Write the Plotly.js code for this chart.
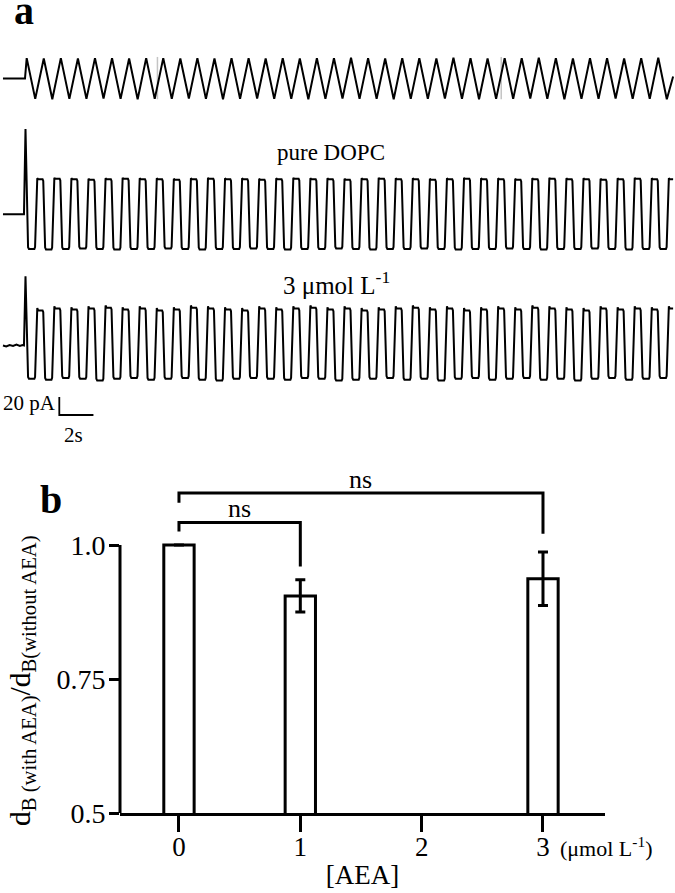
<!DOCTYPE html>
<html><head><meta charset="utf-8">
<script src="https://cdn.plot.ly/plotly-3.0.1.min.js"></script>
<style>html,body{margin:0;padding:0;background:#fff}#chart{width:675px;height:893px}</style>
</head><body><div id="chart"></div>
<script>
// ---------- Panel a : recorded traces (time in s, one triangle cycle = 1 s) ----------
const cyclePeriodS = 1;
const traceStartS = -1.39;
const traceEndS = 37.87;
// command voltage (triangle), per-cycle peak and trough values (mV, arbitrary scale)
const voltagePeakMV   = [53,52,53,52,53,53,52,53,53,52,53,52,53,53,52,53,52,53,53,54,53,52,53,53,52,54,53,52,53,53,54,53,52,53,53,52,53,54];
const voltageTroughMV = [-53,-54,-53,-53,-52,-53,-54,-53,-53,-52,-53,-54,-53,-52,-53,-53,-54,-53,-52,-53,-53,-54,-53,-53,-52,-53,-54,-53,-53,-52,-53,-54,-53,-53,-52,-53,-53,-54];
const voltageEndMV = 5;
// pure DOPC current, per-cycle plateau levels (pA)
const dopcHighPA = [39,39.5,39,38.5,39,39.5,39,39,38.5,39,39.5,39,39,38.5,39,39.5,39,39,38.5,39,39.5,39,39,38.5,39,39.5,39,39,38.5,39,39.5,39,39,38.5,39,39.5,39,39];
const dopcLowPA  = [-38.5,-39,-38.5,-38,-38.5,-39,-38.5,-38.5,-38,-38.5,-39,-38.5,-38.5,-38,-38.5,-39,-38.5,-38.5,-38,-38.5,-39,-38.5,-38.5,-38,-38.5,-39,-38.5,-38.5,-38,-38.5,-39,-38.5,-38.5,-38,-38.5,-39,-38.5,-38.5];
const dopcSpikePA = 94.8;
const dopcBaselineT  = [-1.39, -0.16];
const dopcBaselinePA = [0, 0];
// 3 umol/L AEA current, per-cycle plateau levels (pA)
const aeaHighPA = [39,41,40,41,42,40,41,39,40,42,41,40,39,41,40,41,42,40,41,39,40,41,42,40,41,39,40,41,40,42,41,40,39,41,40,41,40,41];
const aeaLowPA  = [-37,-38,-36,-37,-39,-37,-36,-38,-37,-36,-38,-39,-37,-36,-37,-38,-36,-37,-39,-38,-37,-36,-38,-37,-39,-37,-36,-38,-37,-36,-38,-37,-39,-37,-36,-38,-37,-36];
const aeaSpikePA = 77;
const aeaBaselineT  = [-1.39,-1.2,-1.0,-0.8,-0.6,-0.4,-0.25,-0.16];
const aeaBaselinePA = [0,-1,0.5,-0.5,1,-0.5,0.5,0];
// scale bar: 20 pA / 2 s
const scaleBarT  = [1.91, 1.91, 3.91];
const scaleBarPA = [-57.2, -77.2, -77.2];
const artifactT = [7.66, 27.8];

// ---------- Panel b : normalized bilayer thickness ----------
const aeaConc   = [0, 1, 3];
const dRatio    = [1.0, 0.905, 0.937];
const dRatioErr = [null, 0.03, 0.05];
const xTickVals = [0, 1, 2, 3];
const xTickText = ['0', '1', '2', '3'];
const yTickVals = [0.5, 0.75, 1.0];
const yTickText = ['0.5', '0.75', '1.0'];
const bracketNearX = [0, 0, 1, 1];
const bracketNearY = [1.025, 1.042, 1.042, 0.96];
const bracketFarX  = [0, 0, 3, 3];
const bracketFarY  = [1.079, 1.097, 1.097, 1.021];

// ---------- build traces ----------
const vT = [traceStartS, -0.1], vV = [0, 0];
for (let k = 0; k < voltagePeakMV.length; k++) {
  vT.push(k * cyclePeriodS); vV.push(voltagePeakMV[k]);
  vT.push((k + 0.5) * cyclePeriodS); vV.push(voltageTroughMV[k]);
}
vT.push(traceEndS); vV.push(voltageEndMV);

function buildCurrent(high, low, spike, baseT, baseI, ov) {
  const t = baseT.slice(), y = baseI.slice();
  t.push(-0.07); y.push(spike);
  for (let k = 0; k < high.length; k++) {
    const pts = [
      [k + 0.08, low[k] + 2], [k + 0.13, low[k]], [k + 0.45, low[k]], [k + 0.49, low[k] + 2],
      [k + 0.58, high[k] - 2], [k + 0.62, high[k] + ov], [k + 0.67, high[k]], [k + 0.93, high[k]], [k + 0.97, high[k] - 2]
    ];
    for (const p of pts) {
      const tt = p[0] * cyclePeriodS;
      if (tt <= traceEndS) { t.push(tt); y.push(p[1]); }
    }
  }
  t.push(traceEndS); y.push(high[high.length - 1]);
  return {t, y};
}
const dopc = buildCurrent(dopcHighPA, dopcLowPA, dopcSpikePA, dopcBaselineT, dopcBaselinePA, 1);
const aea  = buildCurrent(aeaHighPA, aeaLowPA, aeaSpikePA, aeaBaselineT, aeaBaselinePA, 2.5);

const black = '#000';
const traces = [
  {x: vT, y: vV, xaxis: 'x', yaxis: 'y', type: 'scatter', mode: 'lines', line: {color: black, width: 2}, hoverinfo: 'skip'},
  {x: dopc.t, y: dopc.y, xaxis: 'x', yaxis: 'y2', type: 'scatter', mode: 'lines', line: {color: black, width: 2}, hoverinfo: 'skip'},
  {x: aea.t, y: aea.y, xaxis: 'x', yaxis: 'y3', type: 'scatter', mode: 'lines', line: {color: black, width: 2}, hoverinfo: 'skip'},
  {x: scaleBarT, y: scaleBarPA, xaxis: 'x', yaxis: 'y3', type: 'scatter', mode: 'lines', line: {color: black, width: 1.8}, hoverinfo: 'skip'},
  {x: aeaConc, y: dRatio, xaxis: 'x2', yaxis: 'y4', type: 'bar', width: 0.25,
   marker: {color: '#fff', line: {color: black, width: 3}},
   error_y: {type: 'data', array: dRatioErr, visible: true, color: black, thickness: 3, width: 5}},
  {x: bracketNearX, y: bracketNearY, xaxis: 'x2', yaxis: 'y4', type: 'scatter', mode: 'lines', cliponaxis: false, line: {color: black, width: 3}},
  {x: bracketFarX, y: bracketFarY, xaxis: 'x2', yaxis: 'y4', type: 'scatter', mode: 'lines', cliponaxis: false, line: {color: black, width: 3}}
];

const serif = '"Liberation Serif", "Times New Roman", Times, serif';
const H = 893, W = 675;
const py = v => 1 - v / H;

const layout = {
  width: W, height: H, margin: {l: 0, r: 0, t: 0, b: 0},
  paper_bgcolor: '#fff', plot_bgcolor: 'rgba(0,0,0,0)', showlegend: false,
  font: {family: serif, color: black},
  xaxis:  {domain: [0, 1], range: [-1.564, 37.98], visible: false, anchor: 'y3'},
  yaxis:  {domain: [py(117), py(40)], range: [-100, 100], visible: false, anchor: 'x'},
  yaxis2: {domain: [py(258), py(118)], range: [-48.56, 107.0], visible: false, anchor: 'x'},
  yaxis3: {domain: [py(422), py(262)], range: [-85.0, 92.78], visible: false, anchor: 'x'},
  xaxis2: {domain: [120 / W, 605 / W], range: [-0.486, 3.511], anchor: 'y4',
    showline: true, linewidth: 3, linecolor: black, showgrid: false, zeroline: false,
    ticks: 'outside', ticklen: 16, tickwidth: 3, tickcolor: black, ticklabelstandoff: -8,
    tickvals: xTickVals, ticktext: xTickText, tickfont: {size: 27, family: serif},
    title: {text: '[AEA]', font: {size: 27, family: serif}, standoff: 4}},
  yaxis4: {domain: [py(813), py(475)], range: [0.5, 1.1306], anchor: 'x2',
    showline: false, showgrid: false, zeroline: false,
    ticks: 'outside', ticklen: 10, tickwidth: 3, tickcolor: black, ticklabelstandoff: -2,
    tickvals: yTickVals, ticktext: yTickText, tickfont: {size: 28, family: serif}},
  shapes: [
    {type: 'line', xref: 'x2 domain', yref: 'y4', x0: 0, x1: 0, y0: 0.5, y1: 1.0, line: {color: black, width: 3}},
    {type: 'line', xref: 'x', yref: 'y', x0: artifactT[0], x1: artifactT[0], y0: -54, y1: 56, layer: 'below', line: {color: '#c4c4c4', width: 1.5}},
    {type: 'line', xref: 'x', yref: 'y', x0: artifactT[1], x1: artifactT[1], y0: -54, y1: 56, layer: 'below', line: {color: '#c4c4c4', width: 1.5}}
  ],
  annotations: [
    {text: '<b>a</b>', xref: 'paper', yref: 'paper', x: 12 / W, y: py(10), xanchor: 'left', yanchor: 'middle', showarrow: false, font: {size: 40, family: serif}},
    {text: '<b>b</b>', xref: 'paper', yref: 'paper', x: 38 / W, y: py(499), xanchor: 'left', yanchor: 'middle', showarrow: false, font: {size: 40, family: serif}},
    {text: 'd<sub>B (with AEA)</sub>/d<sub>B(without AEA)</sub>', xref: 'paper', yref: 'paper', x: 22 / W, y: py(681), xanchor: 'center', yanchor: 'middle', textangle: -90, showarrow: false, font: {size: 29.5, family: serif}},
    {text: 'pure DOPC', xref: 'paper', yref: 'paper', x: 331 / W, y: py(152), xanchor: 'center', yanchor: 'middle', showarrow: false, font: {size: 23, family: serif}},
    {text: '3 μmol L<sup>-1</sup>', xref: 'paper', yref: 'paper', x: 336 / W, y: py(283), xanchor: 'center', yanchor: 'middle', showarrow: false, font: {size: 25, family: serif}},
    {text: '20 pA', xref: 'paper', yref: 'paper', x: 1 / W, y: py(403), xanchor: 'left', yanchor: 'middle', showarrow: false, font: {size: 21, family: serif}},
    {text: '2s', xref: 'paper', yref: 'paper', x: 73 / W, y: py(435), xanchor: 'center', yanchor: 'middle', showarrow: false, font: {size: 21, family: serif}},
    {text: 'ns', xref: 'x2', yref: 'y4', x: 0.5, y: bracketNearY[1], xanchor: 'center', yanchor: 'bottom', yshift: -3, showarrow: false, font: {size: 26, family: serif}},
    {text: 'ns', xref: 'x2', yref: 'y4', x: 1.5, y: bracketFarY[1], xanchor: 'center', yanchor: 'bottom', yshift: -3, showarrow: false, font: {size: 26, family: serif}},
    {text: '(μmol L<sup>-1</sup>)', xref: 'paper', yref: 'paper', x: 558 / W, y: py(847), xanchor: 'left', yanchor: 'middle', showarrow: false, font: {size: 22, family: serif}}
  ]
};

Plotly.newPlot('chart', traces, layout, {staticPlot: true, displayModeBar: false});
</script>
</body></html>
